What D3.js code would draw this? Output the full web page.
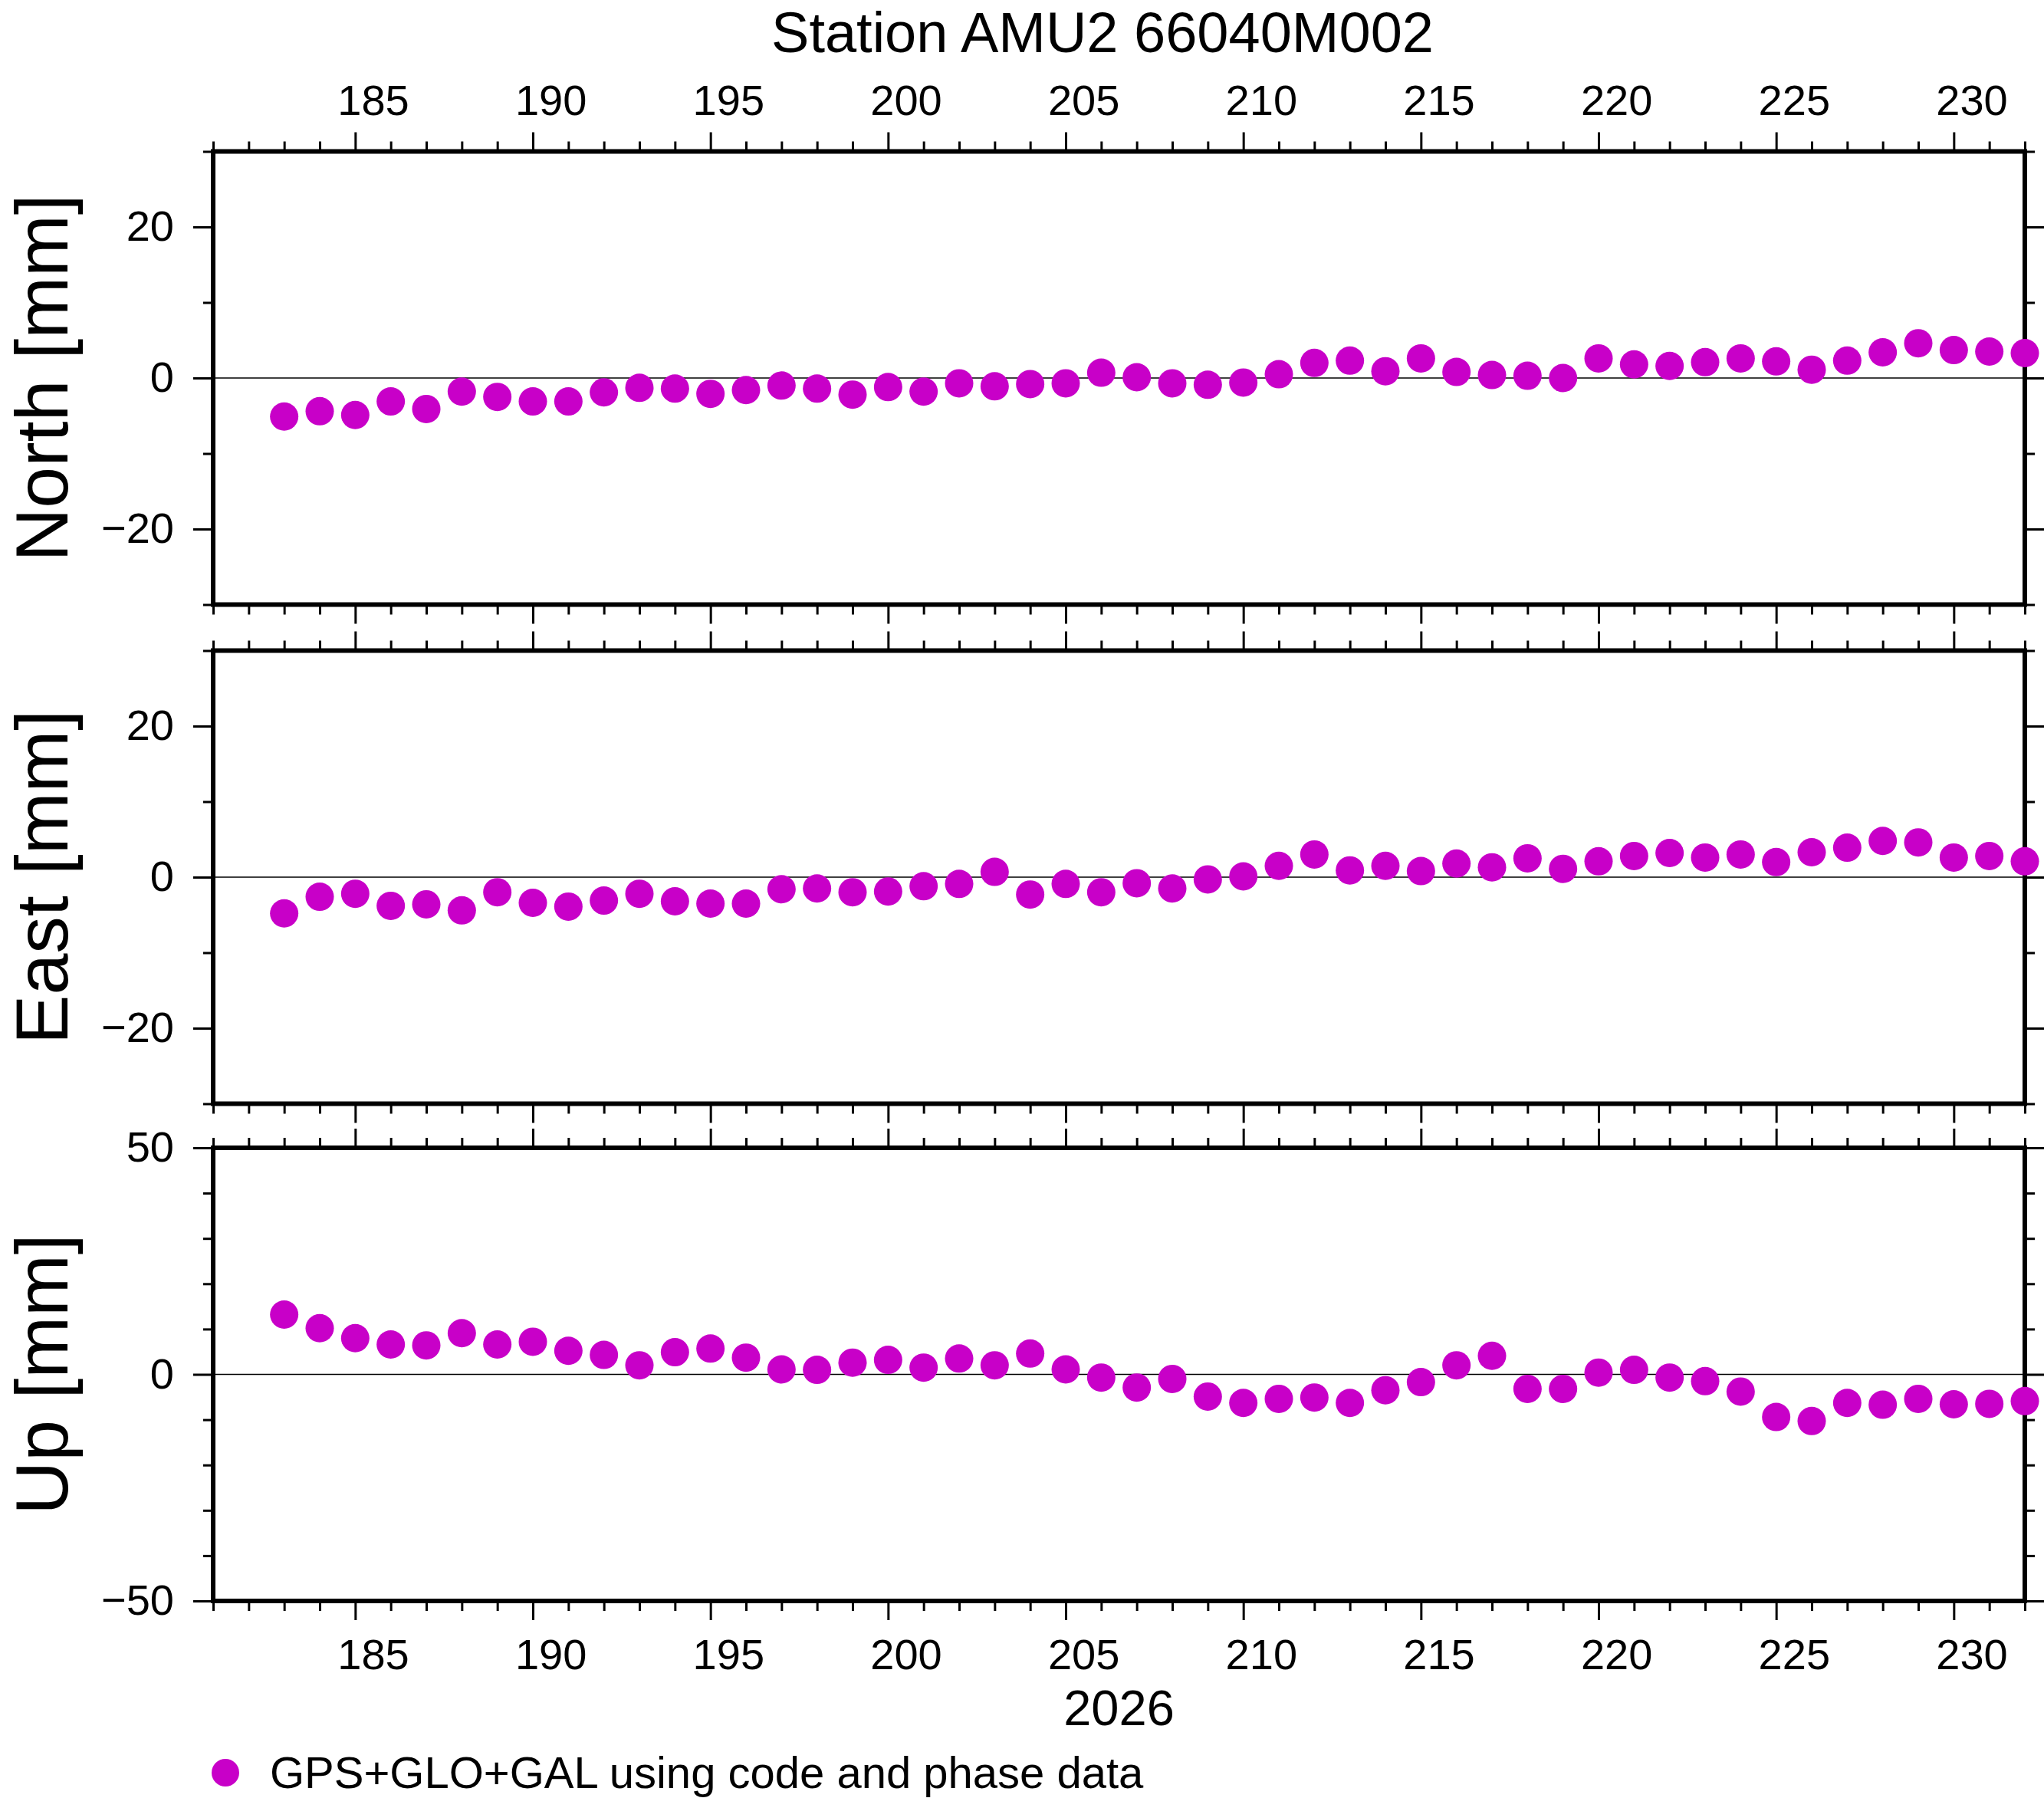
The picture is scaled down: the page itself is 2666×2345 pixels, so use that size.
<!DOCTYPE html>
<html>
<head>
<meta charset="utf-8">
<script src="https://cdn.jsdelivr.net/npm/d3@7"></script>
<style>
  html, body { margin: 0; padding: 0; background: #fff; }
  svg { display: block; }
</style>
</head>
<body>
<script>
// ---------------- data ----------------
const days = [183,184,185,186,187,188,189,190,191,192,193,194,195,196,197,198,199,200,201,202,
              203,204,205,206,207,208,209,210,211,212,213,214,215,216,217,218,219,220,221,222,
              223,224,225,226,227,228,229,230,231,232];

const north = [-5.1,-4.4,-4.9,-3.1,-4.1,-1.8,-2.5,-3.1,-3.1,-1.9,-1.3,-1.4,-2.1,-1.6,-1.0,-1.4,-2.2,-1.2,-1.8,-0.7,
               -1.1,-0.8,-0.7,0.7,0.1,-0.7,-0.9,-0.6,0.5,2.0,2.3,0.9,2.6,0.8,0.4,0.3,0.0,2.6,1.8,1.6,
               2.1,2.6,2.2,1.1,2.3,3.4,4.6,3.7,3.5,3.3];

const east = [-4.8,-2.6,-2.2,-3.8,-3.6,-4.4,-2.0,-3.4,-3.9,-3.1,-2.2,-3.2,-3.5,-3.5,-1.6,-1.5,-2.0,-1.9,-1.2,-0.9,
              0.7,-2.3,-0.9,-2.0,-0.8,-1.5,-0.3,0.1,1.5,3.0,0.9,1.5,0.8,1.8,1.3,2.5,1.1,2.1,2.8,3.2,
              2.6,3.0,2.0,3.3,3.9,4.8,4.6,2.6,2.8,2.1];

const up = [13.2,10.2,8.0,6.6,6.4,9.1,6.6,7.2,5.2,4.3,2.0,4.9,5.7,3.7,1.1,1.0,2.6,3.2,1.5,3.5,
            2.0,4.6,1.1,-0.7,-2.9,-1.0,-4.9,-6.3,-5.4,-5.1,-6.3,-3.5,-1.7,2.0,4.1,-3.2,-3.2,0.4,1.0,-0.7,
            -1.5,-3.8,-9.4,-10.3,-6.3,-6.7,-5.4,-6.6,-6.5,-5.9];

const xDomain = [181, 232];
const xMajorTicks = [185,190,195,200,205,210,215,220,225,230];
const xMinorTicks = [181,182,183,184,186,187,188,189,191,192,193,194,196,197,198,199,201,202,203,204,
                     206,207,208,209,211,212,213,214,216,217,218,219,221,222,223,224,226,227,228,229,231,232];

const neDomain = [-30, 30];
const neMajorTicks = [-20, 0, 20];
const neMinorTicks = [-30, -10, 10, 30];
const upDomain = [-50, 50];
const upMajorTicks = [-50, 0, 50];
const upMinorTicks = [-40, -30, -20, -10, 10, 20, 30, 40];

const panelLabels = ["North [mm]", "East [mm]", "Up [mm]"];
const titleText = "Station AMU2 66040M002";
const yearText = "2026";
const legendText = "GPS+GLO+GAL using code and phase data";

// ---------------- layout ----------------
const W = 2666, H = 2345;
const FONT = "'Liberation Sans', Arial, Helvetica, sans-serif";
const DOT = "#c800c8";
const panelTops = [197.5, 848.5, 1497];
const panelH = 591;

const svg = d3.select("body").append("svg")
  .attr("width", W).attr("height", H)
  .attr("viewBox", `0 0 ${W} ${H}`);

svg.append("rect").attr("width", W).attr("height", H).attr("fill", "#fff");

const x = d3.scaleLinear().domain(xDomain).range([278, 2641]);
const halfDay = x(xDomain[0] + 0.5) - x(xDomain[0]);
const fmt = d => d < 0 ? "\u2212" + Math.abs(d) : String(d);

const panels = [
  { label: panelLabels[0], values: north, domain: neDomain, major: neMajorTicks, minor: neMinorTicks },
  { label: panelLabels[1], values: east,  domain: neDomain, major: neMajorTicks, minor: neMinorTicks },
  { label: panelLabels[2], values: up,    domain: upDomain, major: upMajorTicks, minor: upMinorTicks }
];

function styleAxis(g, fontSize) {
  g.attr("font-family", FONT).attr("font-size", fontSize);
  g.select(".domain").remove();
  g.selectAll(".tick line").attr("stroke", "#000").attr("stroke-width", 3);
  g.selectAll(".tick text").attr("fill", "#000");
}

panels.forEach((p, i) => {
  const top = panelTops[i];
  const y = d3.scaleLinear().domain(p.domain).range([top + panelH, top]);
  const g = svg.append("g");

  // zero line
  g.append("line")
    .attr("x1", x.range()[0]).attr("x2", x.range()[1])
    .attr("y1", y(0)).attr("y2", y(0))
    .attr("stroke", "#000").attr("stroke-width", 1.3);

  // left axis
  g.append("g").attr("transform", `translate(${x.range()[0]},0)`)
    .call(d3.axisLeft(y).tickValues(p.major).tickSize(26).tickPadding(25).tickFormat(fmt))
    .call(a => styleAxis(a, 56));
  g.append("g").attr("transform", `translate(${x.range()[0]},0)`)
    .call(d3.axisLeft(y).tickValues(p.minor).tickSize(13).tickFormat(""))
    .call(a => styleAxis(a, 56));
  // right axis
  g.append("g").attr("transform", `translate(${x.range()[1]},0)`)
    .call(d3.axisRight(y).tickValues(p.major).tickSize(26).tickFormat(""))
    .call(a => styleAxis(a, 56));
  g.append("g").attr("transform", `translate(${x.range()[1]},0)`)
    .call(d3.axisRight(y).tickValues(p.minor).tickSize(13).tickFormat(""))
    .call(a => styleAxis(a, 56));

  // top axis
  const topMaj = g.append("g").attr("transform", `translate(0,${top})`)
    .call(d3.axisTop(x).tickValues(xMajorTicks).tickSize(25).tickPadding(23)
      .tickFormat(i === 0 ? (d => String(d)) : ""))
    .call(a => styleAxis(a, 56));
  topMaj.selectAll(".tick text").attr("x", halfDay);
  g.append("g").attr("transform", `translate(0,${top})`)
    .call(d3.axisTop(x).tickValues(xMinorTicks).tickSize(13).tickFormat(""))
    .call(a => styleAxis(a, 56));

  // bottom axis
  const botMaj = g.append("g").attr("transform", `translate(0,${top + panelH})`)
    .call(d3.axisBottom(x).tickValues(xMajorTicks).tickSize(25).tickPadding(24)
      .tickFormat(i === panels.length - 1 ? (d => String(d)) : ""))
    .call(a => styleAxis(a, 56));
  botMaj.selectAll(".tick text").attr("x", halfDay);
  g.append("g").attr("transform", `translate(0,${top + panelH})`)
    .call(d3.axisBottom(x).tickValues(xMinorTicks).tickSize(13).tickFormat(""))
    .call(a => styleAxis(a, 56));

  // frame
  g.append("rect")
    .attr("x", x.range()[0]).attr("y", top)
    .attr("width", x.range()[1] - x.range()[0]).attr("height", panelH)
    .attr("fill", "none").attr("stroke", "#000").attr("stroke-width", 6);

  // points
  g.append("g").selectAll("circle")
    .data(days.map((d, k) => ({ day: d, v: p.values[k] })))
    .join("circle")
    .attr("cx", d => x(d.day))
    .attr("cy", d => y(d.v))
    .attr("r", 18.5)
    .attr("fill", DOT);

  // y label
  g.append("text")
    .attr("transform", `translate(88,${top + panelH / 2}) rotate(-90)`)
    .attr("text-anchor", "middle")
    .attr("font-family", FONT).attr("font-size", 97)
    .attr("fill", "#000")
    .text(p.label);
});

// title
svg.append("text")
  .attr("x", 1438).attr("y", 68)
  .attr("text-anchor", "middle")
  .attr("font-family", FONT).attr("font-size", 74)
  .attr("fill", "#000")
  .text(titleText);

// year label
svg.append("text")
  .attr("x", (x.range()[0] + x.range()[1]) / 2).attr("y", 2250)
  .attr("text-anchor", "middle")
  .attr("font-family", FONT).attr("font-size", 65)
  .attr("fill", "#000")
  .text(yearText);

// legend
svg.append("circle").attr("cx", 294).attr("cy", 2312).attr("r", 18).attr("fill", DOT);
svg.append("text")
  .attr("x", 352).attr("y", 2332)
  .attr("font-family", FONT).attr("font-size", 58)
  .attr("fill", "#000")
  .text(legendText);
</script>
</body>
</html>
